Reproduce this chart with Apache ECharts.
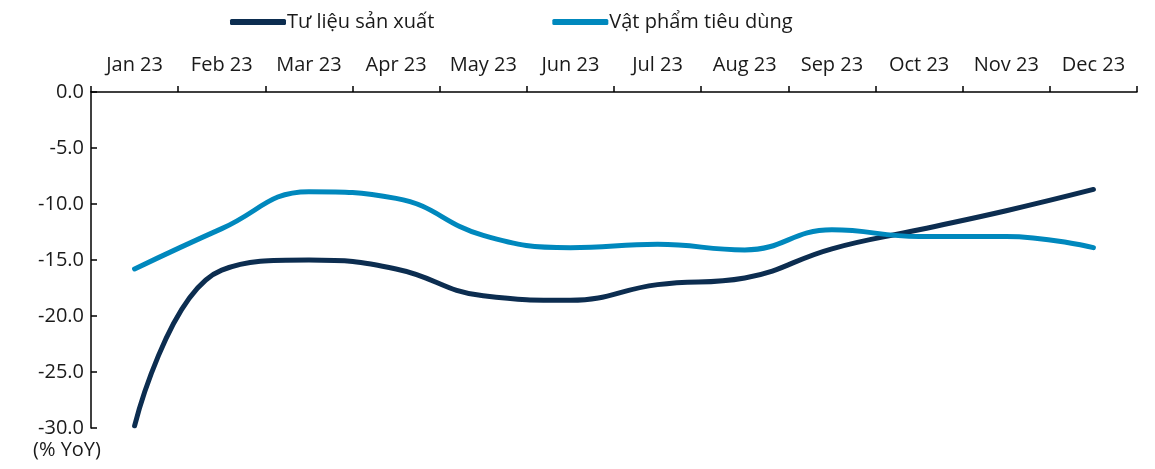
<!DOCTYPE html>
<html>
<head>
<meta charset="utf-8">
<script src="https://cdn.jsdelivr.net/npm/echarts@6/dist/echarts.min.js"></script>
<style>
  html, body { margin: 0; padding: 0; background: #fff; }
  #chart { width: 1155px; height: 469px; }
</style>
</head>
<body>
<div id="chart"></div>
<script>
// danh mục tháng
const months = ['Jan 23', 'Feb 23', 'Mar 23', 'Apr 23', 'May 23', 'Jun 23',
                'Jul 23', 'Aug 23', 'Sep 23', 'Oct 23', 'Nov 23', 'Dec 23'];
// % YoY
const tuLieuSanXuat = [-29.8, -15.9, -15.0, -15.8, -18.2, -18.6, -17.2, -16.6, -14.0, -12.3, -10.6, -8.7];
const vatPhamTieuDung = [-15.8, -12.2, -8.9, -9.5, -12.8, -13.9, -13.6, -14.1, -12.3, -12.9, -12.9, -13.9];
const yTicks = [0, -5, -10, -15, -20, -25, -30];

const FONT = '"Open Sans", "Noto Sans", sans-serif';
const FS = 20;
const DARK = '#0c2d50';
const LIGHT = '#0088bd';

const chart = echarts.init(document.getElementById('chart'));
chart.setOption({
    animation: false,
    textStyle: { fontFamily: FONT },
    legend: {
        top: 7,
        left: 225,
        itemGap: 118,
        itemWidth: 56,
        itemHeight: 6,
        icon: 'roundRect',
        textStyle: { fontFamily: FONT, fontSize: FS, color: '#1a1a1a', padding: [0, 0, 0, -4] },
        data: ['Tư liệu sản xuất', 'Vật phẩm tiêu dùng']
    },
    grid: { left: 91, right: 18, top: 92, bottom: 41 },
    xAxis: {
        type: 'category',
        position: 'top',
        data: months,
        boundaryGap: true,
        axisLine: { lineStyle: { color: '#000', width: 1.5 } },
        axisTick: { show: true, inside: false, length: 6, interval: 0, lineStyle: { color: '#000', width: 1.5 } },
        axisLabel: { color: '#1a1a1a', fontSize: FS, margin: 17, interval: 0, hideOverlap: false, fontFamily: FONT }
    },
    yAxis: {
        type: 'value',
        min: yTicks[yTicks.length - 1],
        max: yTicks[0],
        interval: 5,
        splitLine: { show: false },
        axisLine: { show: true, lineStyle: { color: '#000', width: 1.5 } },
        axisTick: { show: true, inside: true, length: 6, lineStyle: { color: '#000', width: 1.5 } },
        axisLabel: {
            color: '#1a1a1a', fontSize: FS, margin: 7, fontFamily: FONT,
            formatter: v => v.toFixed(1)
        }
    },
    graphic: [{
        type: 'text',
        left: 33,
        top: 440,
        style: { text: '(% YoY)', fontSize: FS, fontFamily: FONT, fill: '#1a1a1a' }
    }],
    series: [
        {
            name: 'Tư liệu sản xuất',
            type: 'line',
            data: tuLieuSanXuat,
            smooth: 0.45,
            symbol: 'none',
            itemStyle: { color: DARK },
            lineStyle: { color: DARK, width: 5, cap: 'round', join: 'round' }
        },
        {
            name: 'Vật phẩm tiêu dùng',
            type: 'line',
            data: vatPhamTieuDung,
            smooth: 0.45,
            symbol: 'none',
            itemStyle: { color: LIGHT },
            lineStyle: { color: LIGHT, width: 5, cap: 'round', join: 'round' }
        }
    ]
});
</script>
</body>
</html>
